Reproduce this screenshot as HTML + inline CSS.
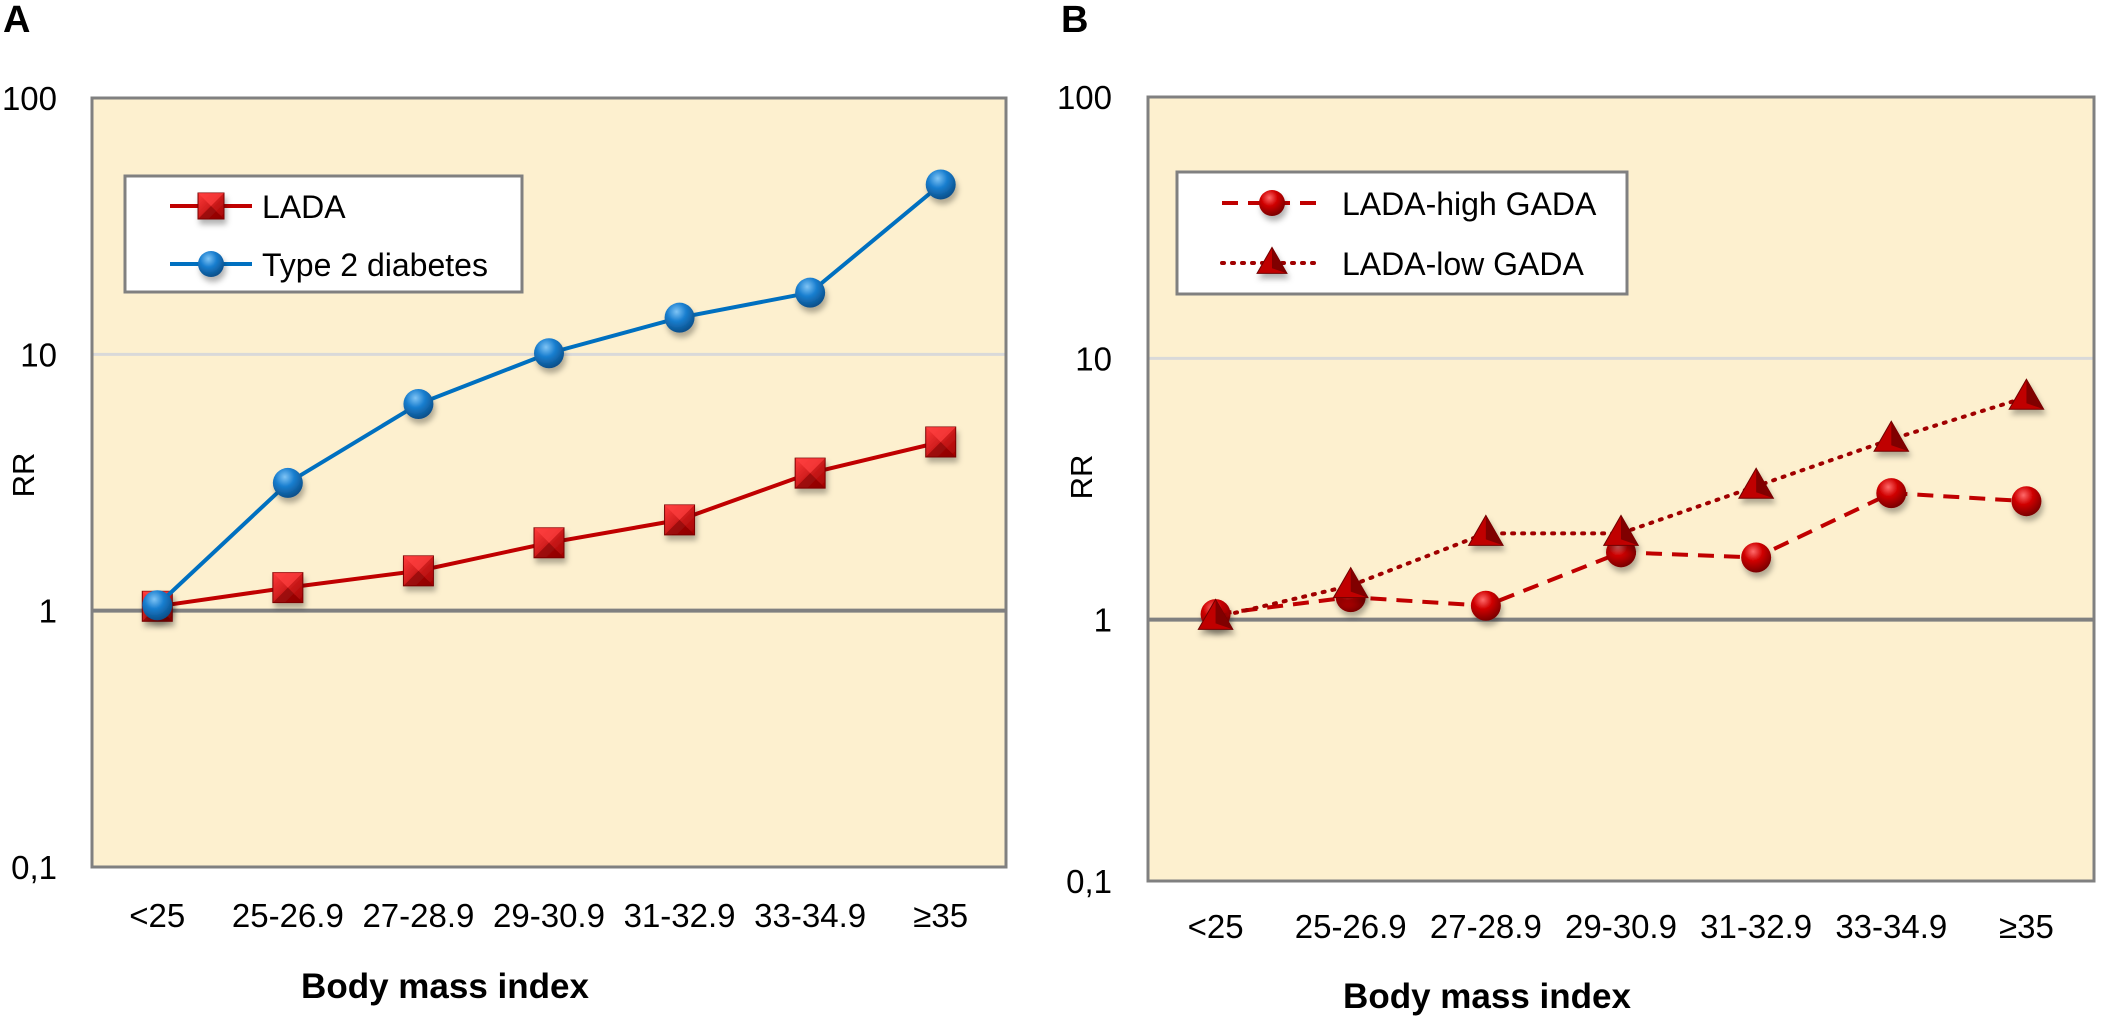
<!DOCTYPE html>
<html><head><meta charset="utf-8"><style>
html,body{margin:0;padding:0;background:#fff;}
svg{display:block;font-family:"Liberation Sans",sans-serif;}
</style></head><body>
<svg id="c" width="2101" height="1034" viewBox="0 0 2101 1034" xmlns="http://www.w3.org/2000/svg">
<defs>
<radialGradient id="gBlue" cx="40%" cy="30%" r="70%"><stop offset="0" stop-color="#7fc4f5"/><stop offset="0.45" stop-color="#1a7fd0"/><stop offset="1" stop-color="#0a4f8a"/></radialGradient>
<radialGradient id="gRed" cx="40%" cy="30%" r="70%"><stop offset="0" stop-color="#ff6a6a"/><stop offset="0.45" stop-color="#d00000"/><stop offset="1" stop-color="#7a0000"/></radialGradient>
<linearGradient id="gSq" x1="0" y1="0" x2="1" y2="1"><stop offset="0" stop-color="#ff3a3a"/><stop offset="1" stop-color="#a00000"/></linearGradient>
<filter id="sh" x="-50%" y="-50%" width="200%" height="200%"><feDropShadow dx="2" dy="5" stdDeviation="3" flood-color="#000" flood-opacity="0.3"/></filter>
</defs>
</svg>
<script>
const categories = ["<25","25-26.9","27-28.9","29-30.9","31-32.9","33-34.9","\u226535"];
const ladaValues = [1.04, 1.23, 1.43, 1.84, 2.26, 3.44, 4.55];
const t2dValues = [1.05, 3.15, 6.4, 10.1, 13.9, 17.4, 46];
const highGadaValues = [1.05, 1.22, 1.13, 1.81, 1.73, 3.05, 2.84];
const lowGadaValues = [1.02, 1.35, 2.14, 2.14, 3.24, 4.9, 7.1];
const yTicks = [100, 10, 1, 0.1];
const yTickLabels = ["100","10","1","0,1"];

const NS = "http://www.w3.org/2000/svg";
const svg = document.getElementById('c');
function el(tag, attrs, parent, text){
  const e = document.createElementNS(NS, tag);
  for (const k in attrs) e.setAttribute(k, attrs[k]);
  if (text !== undefined) e.textContent = text;
  (parent || svg).appendChild(e);
  return e;
}

function panel(p){
  const g = el('g', {});
  
  
  const x = i => p.x0 + (p.x1 - p.x0) * (i + 0.5) / categories.length;
  const y = v => p.y0 + (2 - Math.log10(v)) * (p.y1 - p.y0) / 3;
  const bg = el('rect', {x:p.x0, y:p.y0, width:p.x1-p.x0, height:p.y1-p.y0, fill:'#fdf0cf'}, g);
  
  
  const g10 = el('line', {x1:p.x0, x2:p.x1, y1:y(10), y2:y(10), stroke:'#d9d9d9', 'stroke-width':3}, g);
  
  
  const g1 = el('line', {x1:p.x0, x2:p.x1, y1:y(1), y2:y(1), stroke:'#808080', 'stroke-width':4}, g);
  
  
  const bd = el('rect', {x:p.x0, y:p.y0, width:p.x1-p.x0, height:p.y1-p.y0, fill:'none', stroke:'#808080', 'stroke-width':3}, g);
  
  
  yTicks.forEach((v, i) => {
    const t = el('text', {x:p.tickX, y:y(v)+12, 'text-anchor':'end', 'font-size':33, fill:'#000'}, g, yTickLabels[i]);
    
    
  });
  categories.forEach((c, i) => {
    const t = el('text', {x:x(i), y:p.xTickY, 'text-anchor':'middle', 'font-size':33, fill:'#000'}, g, c);
    
    
  });
  const rr = el('text', {x:0, y:0, 'text-anchor':'middle', 'font-size':31, fill:'#000', transform:`translate(${p.rrX},${p.rrY}) rotate(-90)`}, g, 'RR');
  
  
  const xt = el('text', {x:p.titleX, y:p.titleY, 'text-anchor':'middle', 'font-size':35, 'font-weight':'bold', fill:'#000'}, g, 'Body mass index');
  
  
  const lab = el('text', {x:p.labX, y:32, 'font-size':38, 'font-weight':'bold', fill:'#000'}, g, p.label);
  
  
  return {g, x, y};
}

function marker(g, type, cx, cy, s){
  let m;
  if (type === 'square'){
    m = el('g', {filter:'url(#sh)'}, g);
    el('rect', {x:cx-s, y:cy-s, width:2*s, height:2*s, fill:'url(#gSq)', stroke:'#7a0000', 'stroke-width':1}, m);
    el('path', {d:`M${cx-s},${cy-s}L${cx},${cy}L${cx+s},${cy-s}Z`, fill:'#ff4040', opacity:0.7}, m);
    el('path', {d:`M${cx-s},${cy+s}L${cx},${cy}L${cx+s},${cy+s}Z`, fill:'#800000', opacity:0.6}, m);
  } else if (type === 'circle'){
    m = el('circle', {cx, cy, r:s, fill:'url(#gBlue)', filter:'url(#sh)'}, g);
  } else if (type === 'redcircle'){
    m = el('circle', {cx, cy, r:s, fill:'url(#gRed)', filter:'url(#sh)'}, g);
  } else {
    m = el('g', {filter:'url(#sh)'}, g);
    el('path', {d:`M${cx},${cy-s*1.2}L${cx+s*1.15},${cy+s*0.8}L${cx-s*1.15},${cy+s*0.8}Z`, fill:'#c00000', stroke:'#700000', 'stroke-width':1}, m);
    el('path', {d:`M${cx},${cy-s*1.2}L${cx+s*1.15},${cy+s*0.8}L${cx},${cy+s*0.4}Z`, fill:'#800000'}, m);
  }
  return m;
}

function series(P, vals, color, dash, type, name, ptName){
  const pts = vals.map((v, i) => `${P.x(i)},${P.y(v)}`).join(' ');
  const ln = el('polyline', {points:pts, fill:'none', stroke:color, 'stroke-width':4, 'stroke-dasharray':dash, 'stroke-linecap':dash==='2 8'?'round':'butt'}, P.g);
  
  
  vals.forEach((v, i) => {
    const m = marker(P.g, type, P.x(i), P.y(v), 15);
    
    
  });
}

function legend(P, L, items){
  const lg = el('g', {}, P.g);
  
  
  el('rect', {x:L.x, y:L.y, width:L.w, height:L.h, fill:'#fff', stroke:'#808080', 'stroke-width':3}, lg);
  items.forEach((it, k) => {
    const cy = L.y + L.first + k*L.gap;
    const e = el('g', {}, lg);
    
    
    el('line', {x1:L.x+L.l0, x2:L.x+L.l1, y1:cy, y2:cy, stroke:it.color, 'stroke-width':4, 'stroke-dasharray':it.dash, 'stroke-linecap':it.dash==='2 8'?'round':'butt'}, e);
    marker(e, it.type, L.x+(L.l0+L.l1)/2, cy, 13);
    el('text', {x:L.x+L.tx, y:cy+12, 'font-size':32, fill:'#000'}, e, it.label);
  });
}

const A = panel({name:'panel-a', x0:92, x1:1006, y0:98, y1:867, tickX:57, xTickY:927, rrX:34, rrY:475, titleX:445, titleY:998, labX:3, label:'A'});
series(A, ladaValues, '#c00000', 'none', 'square', 'lada-line', 'lada-point');
series(A, t2dValues, '#0070c0', 'none', 'circle', 't2d-line', 't2d-point');
legend(A, {x:125, y:176, w:397, h:116, first:30, gap:58, l0:45, l1:127, tx:137}, [
  {label:'LADA', color:'#c00000', dash:'none', type:'square'},
  {label:'Type 2 diabetes', color:'#0070c0', dash:'none', type:'circle'}
]);

const B = panel({name:'panel-b', x0:1148, x1:2094, y0:97, y1:881, tickX:1112, xTickY:938, rrX:1092, rrY:477, titleX:1487, titleY:1008, labX:1061, label:'B'});
series(B, highGadaValues, '#c00000', '16 10', 'redcircle', 'lada-high-gada-line', 'lada-high-gada-point');
series(B, lowGadaValues, '#a00000', '2 8', 'triangle', 'lada-low-gada-line', 'lada-low-gada-point');
legend(B, {x:1177, y:172, w:450, h:122, first:31, gap:60, l0:45, l1:145, tx:165}, [
  {label:'LADA-high GADA', color:'#c00000', dash:'16 10', type:'redcircle'},
  {label:'LADA-low GADA', color:'#a00000', dash:'2 8', type:'triangle'}
]);
</script>
</body></html>
